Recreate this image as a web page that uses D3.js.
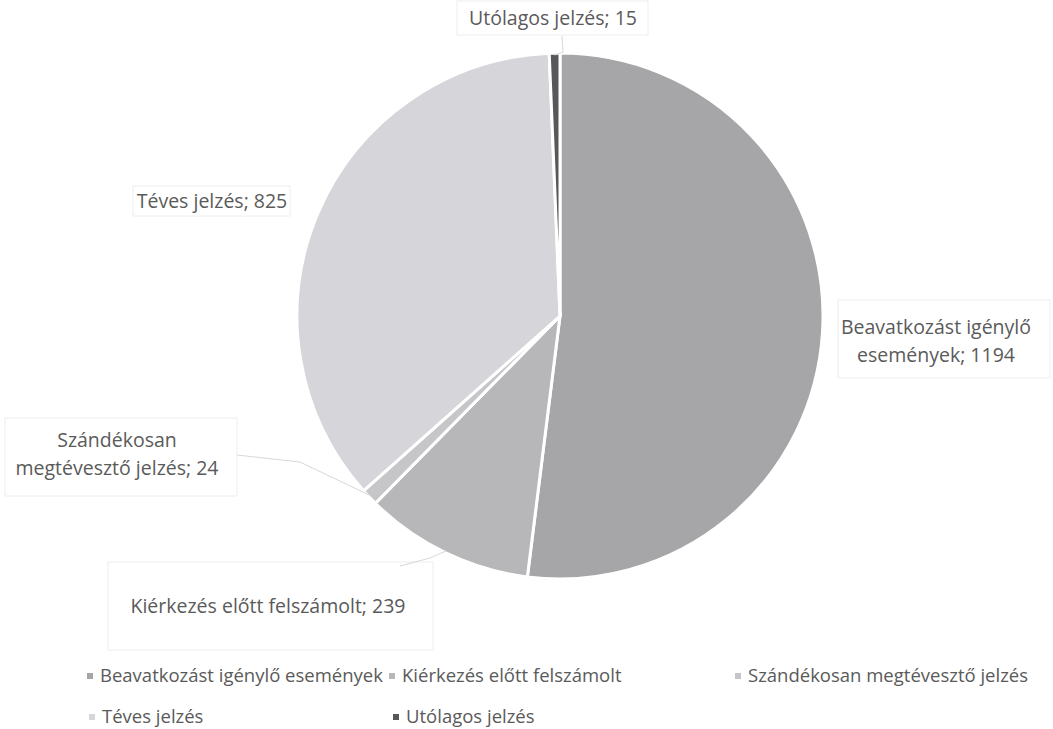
<!DOCTYPE html>
<html><head><meta charset="utf-8">
<script src="https://cdn.jsdelivr.net/npm/d3@7"></script>
<style>body{margin:0;background:#fff}svg{display:block}text{font-family:"Open Sans",sans-serif;fill:#5a5a5a}</style>
</head><body>
<script>
const categories = ["Beavatkozást igénylő események","Kiérkezés előtt felszámolt","Szándékosan megtévesztő jelzés","Téves jelzés","Utólagos jelzés"];
const values = [1194, 239, 24, 825, 15];
const colors = ["#a6a6a9","#b7b7ba","#c6c6c8","#d6d6da","#58585a"];
const labelLines = [["Beavatkozást igénylő","események; 1194"],["Kiérkezés előtt felszámolt; 239"],["Szándékosan","megtévesztő jelzés; 24"],["Téves jelzés; 825"],["Utólagos jelzés; 15"]];

const W=1053,H=729, cx=560, cy=316, R=263;
const svg=d3.select("body").append("svg").attr("width",W).attr("height",H);
const data=categories.map((c,i)=>({c,v:values[i],i}));
const pie=d3.pie().value(d=>d.v).sort(null);
const arc=d3.arc().innerRadius(0).outerRadius(R);
const arcs=pie(data);
const g=svg.append("g").attr("transform",`translate(${cx},${cy})`);
g.selectAll("path").data(arcs).join("path").attr("d",arc).attr("fill",d=>colors[d.data.i]).attr("stroke","#fff").attr("stroke-width",3);

const lblPos=[{x:936,y:327},{x:268,y:606},{x:117,y:440},{x:212,y:201},{x:553,y:18}];
const boxes=[[838,300,212,78],[108,562,325,88],[5,418,232,78],[133,186,157,30],[457,1,191,34]];
boxes.forEach(b=>svg.append("rect").attr("x",b[0]).attr("y",b[1]).attr("width",b[2]).attr("height",b[3]).attr("fill","none").attr("stroke","#eeeeee").attr("stroke-width",1));
const leaders=[[1,[[400,566],[430,558]]],[2,[[237,455],[300,462]]],[4,[[562,36],[563,52]]]];
leaders.forEach(([i,pts])=>{
  const a=arcs[i]; const mid=(a.startAngle+a.endAngle)/2;
  const edge=[cx+Math.sin(mid)*(R-2), cy-Math.cos(mid)*(R-2)];
  svg.append("path").attr("d",d3.line()([...pts,edge])).attr("fill","none").attr("stroke","#d8d8d8").attr("stroke-width",1);
});
labelLines.forEach((ls,i)=>{
  const p=lblPos[i];
  const t=svg.append("text").attr("text-anchor","middle").attr("font-size",19.5);
  ls.forEach((l,k)=>t.append("tspan").attr("x",p.x).attr("y",p.y+k*28).attr("dy","0.35em").text(l));
});

const legPos=[{x:90,y:676},{x:392,y:676},{x:738,y:676},{x:92,y:717},{x:396,y:717}];
const leg=svg.selectAll("g.leg").data(data).join("g").attr("class","leg").attr("transform",d=>`translate(${legPos[d.i].x},${legPos[d.i].y})`);
leg.append("rect").attr("x",-3).attr("y",-3).attr("width",6).attr("height",6).attr("fill",d=>colors[d.i]);
leg.append("text").attr("x",10).attr("dy","0.35em").attr("font-size",18.5).text(d=>d.c);
</script>
</body></html>
